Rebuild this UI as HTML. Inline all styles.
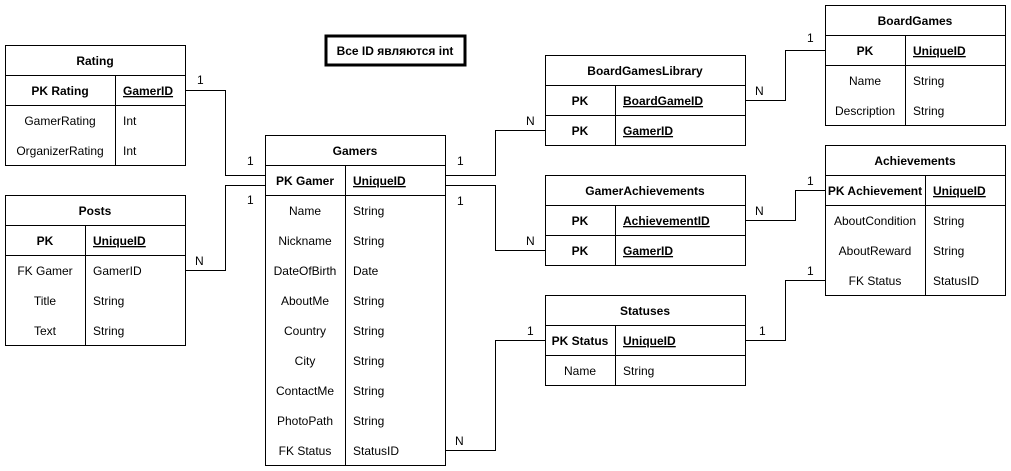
<!DOCTYPE html>
<html><head><meta charset="utf-8"><style>
html,body{margin:0;padding:0;background:#fff;width:1011px;height:471px;overflow:hidden}
svg text{font-family:"Liberation Sans",Arial,"Noto Sans CJK SC",sans-serif;font-size:12px;fill:#000}
.b{font-weight:bold}
</style></head><body>
<svg width="1011" height="471" viewBox="0 0 1011 471" xmlns="http://www.w3.org/2000/svg">
<g fill="none" stroke="#000" stroke-width="1">
<!-- Rating -->
<rect x="5.5" y="45.5" width="180" height="120"/>
<line x1="5" y1="75.5" x2="185" y2="75.5"/><line x1="5" y1="105.5" x2="185" y2="105.5"/>
<line x1="115.5" y1="75" x2="115.5" y2="165"/>
<!-- Posts -->
<rect x="5.5" y="195.5" width="180" height="150"/>
<line x1="5" y1="225.5" x2="185" y2="225.5"/><line x1="5" y1="255.5" x2="185" y2="255.5"/>
<line x1="85.5" y1="225" x2="85.5" y2="345"/>
<!-- Gamers -->
<rect x="265.5" y="135.5" width="180" height="330"/>
<line x1="265" y1="165.5" x2="445" y2="165.5"/><line x1="265" y1="195.5" x2="445" y2="195.5"/>
<line x1="345.5" y1="165" x2="345.5" y2="465"/>
<!-- BGL -->
<rect x="545.5" y="55.5" width="200" height="90"/>
<line x1="545" y1="85.5" x2="745" y2="85.5"/><line x1="545" y1="115.5" x2="745" y2="115.5"/>
<line x1="615.5" y1="85" x2="615.5" y2="145"/>
<!-- GA -->
<rect x="545.5" y="175.5" width="200" height="90"/>
<line x1="545" y1="205.5" x2="745" y2="205.5"/><line x1="545" y1="235.5" x2="745" y2="235.5"/>
<line x1="615.5" y1="205" x2="615.5" y2="265"/>
<!-- Statuses -->
<rect x="545.5" y="295.5" width="200" height="90"/>
<line x1="545" y1="325.5" x2="745" y2="325.5"/><line x1="545" y1="355.5" x2="745" y2="355.5"/>
<line x1="615.5" y1="325" x2="615.5" y2="385"/>
<!-- BoardGames -->
<rect x="825.5" y="5.5" width="180" height="120"/>
<line x1="825" y1="35.5" x2="1005" y2="35.5"/><line x1="825" y1="65.5" x2="1005" y2="65.5"/>
<line x1="905.5" y1="35" x2="905.5" y2="125"/>
<!-- Achievements -->
<rect x="825.5" y="145.5" width="180" height="150"/>
<line x1="825" y1="175.5" x2="1005" y2="175.5"/><line x1="825" y1="205.5" x2="1005" y2="205.5"/>
<line x1="925.5" y1="175" x2="925.5" y2="295"/>
<!-- connectors -->
<polyline points="185,90.5 225.5,90.5 225.5,175.5 265,175.5"/>
<polyline points="185,270.5 225.5,270.5 225.5,185.5 265,185.5"/>
<polyline points="445,175.5 495.5,175.5 495.5,130.5 545,130.5"/>
<polyline points="445,185.5 495.5,185.5 495.5,250.5 545,250.5"/>
<polyline points="445,450.5 495.5,450.5 495.5,340.5 545,340.5"/>
<polyline points="745,100.5 785.5,100.5 785.5,50.5 825,50.5"/>
<polyline points="745,220.5 795.5,220.5 795.5,190.5 825,190.5"/>
<polyline points="745,340.5 785.5,340.5 785.5,280.5 825,280.5"/>
</g>
<rect x="326" y="36" width="139" height="29" fill="none" stroke="#000" stroke-width="3"/>
<text x="395" y="55" text-anchor="middle" class="b">Все ID являются int</text>

<g text-anchor="middle">
<text x="95" y="65" class="b">Rating</text>
<text x="60" y="95" class="b">PK Rating</text>
<text x="60" y="125">GamerRating</text>
<text x="60" y="155">OrganizerRating</text>
<text x="95" y="215" class="b">Posts</text>
<text x="45" y="245" class="b">PK</text>
<text x="45" y="275">FK Gamer</text>
<text x="45" y="305">Title</text>
<text x="45" y="335">Text</text>
<text x="355" y="155" class="b">Gamers</text>
<text x="305" y="185" class="b">PK Gamer</text>
<text x="305" y="215">Name</text>
<text x="305" y="245">Nickname</text>
<text x="305" y="275">DateOfBirth</text>
<text x="305" y="305">AboutMe</text>
<text x="305" y="335">Country</text>
<text x="305" y="365">City</text>
<text x="305" y="395">ContactMe</text>
<text x="305" y="425">PhotoPath</text>
<text x="305" y="455">FK Status</text>
<text x="645" y="75" class="b">BoardGamesLibrary</text>
<text x="580" y="105" class="b">PK</text>
<text x="580" y="135" class="b">PK</text>
<text x="645" y="195" class="b">GamerAchievements</text>
<text x="580" y="225" class="b">PK</text>
<text x="580" y="255" class="b">PK</text>
<text x="645" y="315" class="b">Statuses</text>
<text x="580" y="345" class="b">PK Status</text>
<text x="580" y="375">Name</text>
<text x="915" y="25" class="b">BoardGames</text>
<text x="865" y="55" class="b">PK</text>
<text x="865" y="85">Name</text>
<text x="865" y="115">Description</text>
<text x="915" y="165" class="b">Achievements</text>
<text x="875" y="195" class="b">PK Achievement</text>
<text x="875" y="225">AboutCondition</text>
<text x="875" y="255">AboutReward</text>
<text x="875" y="285">FK Status</text>
</g>
<g text-decoration="underline">
<text x="123" y="95" class="b" text-decoration="underline">GamerID</text>
<text x="93" y="245" class="b" text-decoration="underline">UniqueID</text>
<text x="353" y="185" class="b" text-decoration="underline">UniqueID</text>
<text x="623" y="105" class="b" text-decoration="underline">BoardGameID</text>
<text x="623" y="135" class="b" text-decoration="underline">GamerID</text>
<text x="623" y="225" class="b" text-decoration="underline">AchievementID</text>
<text x="623" y="255" class="b" text-decoration="underline">GamerID</text>
<text x="623" y="345" class="b" text-decoration="underline">UniqueID</text>
<text x="913" y="55" class="b" text-decoration="underline">UniqueID</text>
<text x="933" y="195" class="b" text-decoration="underline">UniqueID</text>
</g>
<text x="123" y="125">Int</text>
<text x="123" y="155">Int</text>
<text x="93" y="275">GamerID</text>
<text x="93" y="305">String</text>
<text x="93" y="335">String</text>
<text x="353" y="215">String</text>
<text x="353" y="245">String</text>
<text x="353" y="275">Date</text>
<text x="353" y="305">String</text>
<text x="353" y="335">String</text>
<text x="353" y="365">String</text>
<text x="353" y="395">String</text>
<text x="353" y="425">String</text>
<text x="353" y="455">StatusID</text>
<text x="623" y="375">String</text>
<text x="913" y="85">String</text>
<text x="913" y="115">String</text>
<text x="933" y="225">String</text>
<text x="933" y="255">String</text>
<text x="933" y="285">StatusID</text>
<!-- cardinalities -->
<text x="197" y="84">1</text>
<text x="247" y="165">1</text>
<text x="247" y="204">1</text>
<text x="195" y="265">N</text>
<text x="457" y="165">1</text>
<text x="457" y="205">1</text>
<text x="526" y="125">N</text>
<text x="526" y="245">N</text>
<text x="455" y="445">N</text>
<text x="527" y="335">1</text>
<text x="755" y="95">N</text>
<text x="807" y="42">1</text>
<text x="755" y="215">N</text>
<text x="807" y="185">1</text>
<text x="759" y="335">1</text>
<text x="807" y="275">1</text>
</svg>
</body></html>
